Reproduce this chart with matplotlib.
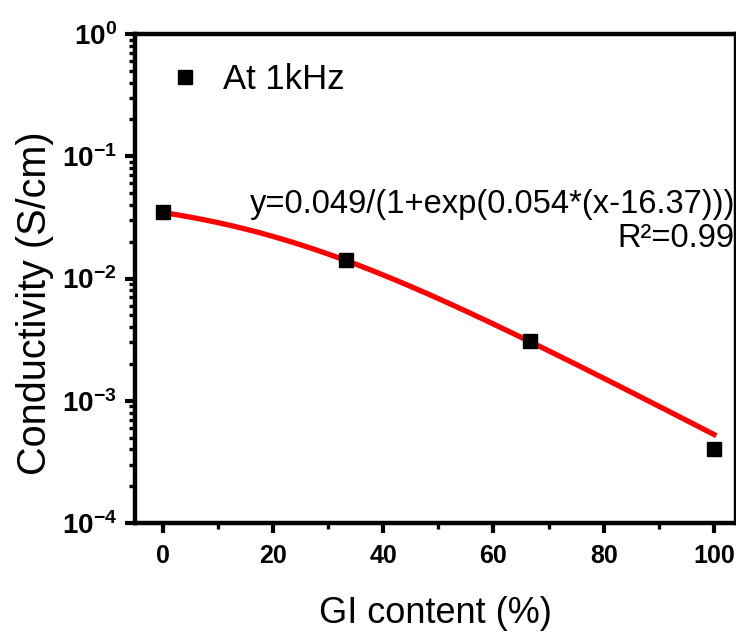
import numpy as np
import matplotlib
matplotlib.use("Agg")
from matplotlib import pyplot as plt
from matplotlib.ticker import LogLocator, MultipleLocator, NullFormatter, FuncFormatter

plt.rcParams['font.family'] = ['Liberation Sans', 'DejaVu Sans']
plt.rcParams['mathtext.fontset'] = 'custom'
plt.rcParams['mathtext.rm'] = 'Liberation Sans'
plt.rcParams['mathtext.bf'] = 'Liberation Sans:bold'

# datos
gi = [0, 33.3, 66.7, 100]
sigma = [0.035, 0.0142, 0.0031, 0.00040]

# parametros del ajuste (escritos en la figura)
a_fit = 0.049
k_fit = 0.054
x0_fit = 16.37

fig = plt.figure(figsize=(7.36, 6.33), dpi=100)
ax = fig.add_axes([135/736, 1-523/633, 601/736, (523-34)/633])

xf = np.linspace(0, 100, 200)
yf = a_fit/(1+np.exp(k_fit*(xf-x0_fit)))
ax.plot(xf, yf, color='#ff0000', lw=3.8, zorder=2)
ax.plot(gi, sigma, 's', color='black', ms=10, zorder=3, label='At 1kHz')

ax.set_yscale('log')
ax.set_ylim(1e-4, 1)
ax.set_xlim(-5, 104)
ax.xaxis.set_major_locator(MultipleLocator(20))
ax.xaxis.set_minor_locator(MultipleLocator(10))
ax.yaxis.set_major_locator(LogLocator(base=10, numticks=10))
ax.yaxis.set_minor_locator(LogLocator(base=10, subs=np.arange(2, 10), numticks=10))
ax.yaxis.set_minor_formatter(NullFormatter())
ax.yaxis.set_major_formatter(FuncFormatter(
    lambda v, p: r'$\mathbf{10^{%d}}$' % int(round(np.log10(v)))))

for s in ax.spines.values():
    s.set_linewidth(3.2)
ax.tick_params(which='major', direction='out', length=7, width=3.0, labelsize=18, pad=8)
ax.tick_params(axis='y', which='major', labelsize=20, pad=6)
ax.tick_params(which='minor', direction='out', length=4, width=2.4)
for lab in ax.get_xticklabels():
    lab.set_fontweight('bold')

ax.set_xlabel('GI content (%)', fontsize=26, labelpad=20)
ax.set_ylabel('Conductivity (S/cm)', fontsize=28.5)
ax.yaxis.set_label_coords(-0.135, 0.45)

ax.legend(loc='upper left', frameon=False, fontsize=25, handletextpad=0.7,
          borderaxespad=0.3, bbox_to_anchor=(0.02, 0.99), handlelength=0.8)

ax.text(0.998, 0.55, 'y=0.049/(1+exp(0.054*(x-16.37)))\nR²=0.99',
        transform=ax.transAxes, ha='right', va='bottom', fontsize=23.5,
        linespacing=1.12)

fig.savefig('out.png', dpi=100)
